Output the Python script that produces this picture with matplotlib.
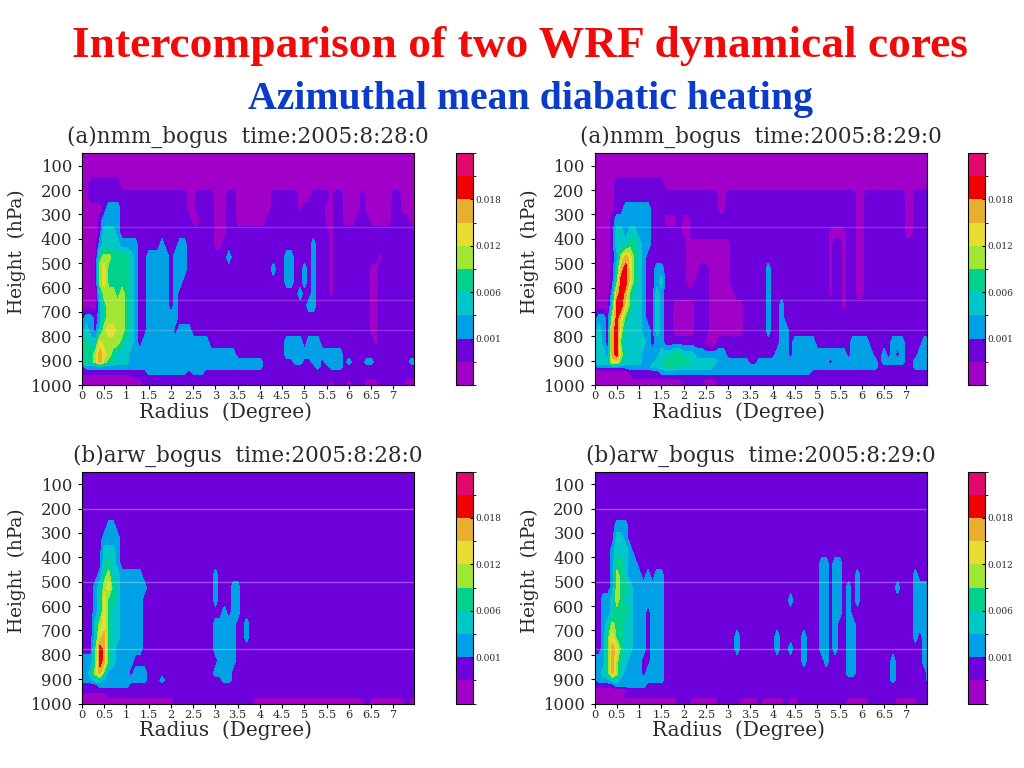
import numpy as np
import matplotlib
matplotlib.use('Agg')
import matplotlib.pyplot as plt
from matplotlib.cm import ScalarMappable
from matplotlib.colors import BoundaryNorm, ListedColormap

W, H = 1024, 768

# digit = colour band of the estimated heating at that grid point
# one char per 0.1 degree, spaces every 1 degree, last char repeats to the right edge
RADIUS = np.arange(76) * 0.1
PRESSURE = [50, 125, 175, 225, 275, 325, 375, 425, 475, 525, 575, 625, 675, 725, 775,
            825, 875, 905, 925, 945, 965, 985, 1000]

NMM_28 = [
    "0",
    "0",
    "0011111110 0",
    "0011111111 1111111111 1111001111 0001100000 0001111110 0011110110 0001000000 110000",
    "0000012221 1111111111 1111001111 0001100000 0001111110 1111100110 0001000000 110000",
    "0000122221 1111111111 1111100111 0001100000 0011111111 1111100110 0011100000 111100",
    "0000133321 1111111111 1111111111 0001111111 1111111111 1111110111 1111111111 111110",
    "0000233332 2221111121 1122111111 0011111111 1111111111 1121110111 1111111111 1",
    "0000455444 4321122222 1222111111 1112111111 1111112211 1121110111 1111111011 1",
    "0000564444 4321122222 1222111111 1111111111 1112112211 2121110111 1111100111 1",
    "0000564444 4321122222 1221111111 1111111111 1111112211 2121110111 1111100111 1",
    "0000355545 4321122222 1211111111 1111111111 1111111112 1121110111 1111100111 1",
    "0000245555 4321122222 1211111111 1111111111 1111111111 1221111111 1111100111 1",
    "1221245555 4321122222 2211111111 1111111111 1111111111 1111111111 1111100111 1",
    "2321356655 4321122222 2122211111 1111111111 1111111111 1111111111 1111100111 1",
    "3433655554 3321222222 2222222221 1111111111 1111112222 1222111111 1111110111 1",
    "4445765433 3222222222 2222222222 2222211111 1111112222 2222222221 1111111111 1",
    "4445754433 3222222222 2222222222 2222222222 2111111122 1122122221 2111221111 111122",
    "1222222222 2222222222 2222222222 2222222222 2111111111 1112112221 1111111111 1",
    "1111111111 1111122222 2222122211 1111111111 1",
    "0000000000 0011111111 1",
    "0000000000 0000111111 1111111111 1111111111 1111111111 1111110111 0111000111 111000",
    "0000000000 0000111111 1111111111 1111111111 1111111111 1111110111 0111000111 111000",
]

NMM_29 = [
    "0",
    "0",
    "0000011111 1111110000 0",
    "0000011111 1111111111 1111111100 1111111111 1111111111 1111111110 0111111111 001111",
    "0000011222 2221111111 1111111100 1111111111 1111111111 1111111110 0111111111 001111",
    "0000122222 2221110001 0011111111 1111111111 1111111111 1111111110 0111111111 001111",
    "0000133233 2221111111 0011111111 1111111111 1111111111 1110000110 0111111111 001111",
    "0000133344 3221111111 1000000000 0111111111 1111111111 1110110110 0111111111 1",
    "0000125764 3211111111 1000000000 0111111111 1111111111 1110110110 0111111111 1",
    "0000137864 3211221111 1000110000 0111111112 1111111111 1110110110 0111111111 1",
    "0000148864 3211231111 1001110000 0111111112 1111111111 1110110110 0111111111 1",
    "0000278743 3211321111 1111110000 0011111112 1111111111 1110110110 0111111111 1",
    "0000388643 3211321100 0001110000 0000111112 1121111111 1111110111 1",
    "1221586433 3211321100 0001110000 0000111112 1121111111 1",
    "2321785333 3221321100 0001110000 0000111112 1122111111 1",
    "3321784333 3321221111 1111100011 1111111111 1122122222 1111111122 2211111222 111122",
    "3332785333 3222233344 3332222222 1111111111 1222122222 2222222122 2221121212 111222",
    "3333664333 3222334444 4433333322 2222211222 2222222222 2221222222 2222122222 112222",
    "1222222222 2223334443 3333333222 2222222222 2222222222 2222222222 2222111111 112222",
    "0000000011 1111122222 2222222222 2222222222 2222222221 1",
    "0000000001 1",
    "0000000000 0000000000 1111100011 1",
    "0000000000 0000000000 1111100011 1111111111 1111111111 1111011111 1",
]

ARW_28 = [
    "1", "1", "1", "1",
    "1111112211 1",
    "1111122221 1",
    "1111133321 1",
    "1111134321 1",
    "1111245332 2222111111 1111111111 2111111111 1",
    "1112356432 2222211111 1111111111 2111221111 1",
    "1112364432 2222111111 1111111111 2111221111 1",
    "1112364332 2222111111 1111111111 1121221111 1",
    "1113564332 2222111111 1111111111 2222211211 1",
    "1113674332 2222111111 1111111111 2222211211 1",
    "1114874322 2222111111 1111111111 2222211111 1",
    "2224874322 2211111111 1111111111 1222211111 1",
    "2235742222 2122211111 1111111111 2222111111 1",
    "2223322222 2222211121 1111111111 1122111111 1",
    "1111222222 2111111111 1",
    "1",
    "0000001111 1",
    "0000000000 0000000000 0111111111 1111111110 0000000000 0000000000 0000100000 000100",
    "0000000000 0000000000 0111111111 1111111110 0000000000 0000000000 0000100000 000100",
]

ARW_29 = [
    "1", "1", "1", "1",
    "1111122211 1",
    "1111133211 1",
    "1111233321 1",
    "1111244322 1111111111 1111111111 1111111111 1111111111 1221221111 1",
    "1111254322 2121221111 1111111111 1111111111 1111111111 1221221112 1111111111 112111",
    "1111254432 2222221111 1111111111 1111111111 1111111111 1221221212 1111111121 112222",
    "1122354332 2222221111 1111111111 1111111111 1111211111 1221221212 1111111111 112222",
    "1122344432 2212221111 1111111111 1111111111 1111111111 1221221211 1111111111 112222",
    "1123544332 2212221111 1111111111 1111111111 1111111111 1221211221 1111111111 112222",
    "1124644332 2212221111 1111111111 1121111111 1211111211 1221211221 1111111111 112122",
    "1124764332 2212221111 1111111111 1121111111 1211211211 1221211221 1111111111 111122",
    "2224753322 2112221111 1111111111 1111111111 1111111211 1121111221 1111111211 111122",
    "2234753222 2122221111 1111111111 1111111111 1111111111 1111111221 1111111211 111112",
    "1222332222 2222221111 1111111111 1111111111 1111111111 1111111111 1111111211 111112",
    "1111122222 2211111111 1",
    "0000000011 1",
    "0000000111 1",
    "0000000000 0000000001 1100000011 1110000100 0001001111 1111111000 0011111100 000111",
    "0000000000 0000000001 1100000011 1110000100 0001001111 1111111000 0011111100 000111",
]

BAND_COLORS = ['#A000C8', '#6E00DC', '#00A0E6', '#00C8C8', '#00D28C',
               '#A0E632', '#E6DC32', '#E6AF2D', '#F00000', '#E00A6E']
BAR_TICKS = [2, 4, 6, 8]
BAR_LABELS = ['0.001', '0.006', '0.012', '0.018']

P_TICKS = [100, 200, 300, 400, 500, 600, 700, 800, 900, 1000]
R_TICKS = [0, 0.5, 1, 1.5, 2, 2.5, 3, 3.5, 4, 4.5, 5, 5.5, 6, 6.5, 7]
R_LABELS = ['0', '0.5', '1', '1.5', '2', '2.5', '3', '3.5', '4', '4.5', '5', '5.5', '6', '6.5', '7']

TOP_STREAKS = [350, 650, 775]
BOTTOM_STREAKS = [200, 500, 775]

PANEL_FONT = 'DejaVu Serif'
TEXT_GRAY = '#2A2A2A'


def to_grid(rows):
    out = []
    for row in rows:
        s = row.replace(' ', '')
        s = s.ljust(len(RADIUS), s[-1])[:len(RADIUS)]
        out.append([int(c) + 0.5 for c in s])
    return np.array(out)


def px_axes(fig, left, top, right, bottom):
    return fig.add_axes([left / W, 1 - bottom / H, (right - left) / W, (bottom - top) / H])


def draw_panel(fig, rows, title, box, bar_x, streaks, streak_alpha):
    left, top, right, bottom = box
    ax = px_axes(fig, left, top, right, bottom)
    ax.contourf(RADIUS, PRESSURE, to_grid(rows), levels=np.arange(11), colors=BAND_COLORS)
    for p in streaks:
        ax.axhline(p, color='white', lw=1, alpha=streak_alpha)
    ax.set_xlim(0, 7.45)
    ax.set_ylim(1000, 48)
    ax.set_xticks(R_TICKS)
    ax.set_xticklabels(R_LABELS, fontsize=8.2, family=PANEL_FONT, color=TEXT_GRAY)
    ax.set_yticks(P_TICKS)
    ax.set_yticklabels(P_TICKS, fontsize=11.8, family=PANEL_FONT, color=TEXT_GRAY)
    ax.tick_params(axis='x', length=3, width=0.8, pad=1.5)
    ax.tick_params(axis='y', length=3, width=0.8, pad=4)

    mid = (left + right) / 2
    fig.text(mid / W, 1 - (top - 16) / H, title, ha='center', va='center',
             fontsize=15.5, family=PANEL_FONT, color=TEXT_GRAY)
    fig.text((mid - 22) / W, 1 - (bottom + 27) / H, 'Radius  (Degree)', ha='center', va='center',
             fontsize=14.5, family=PANEL_FONT, color=TEXT_GRAY)
    fig.text((left - 65) / W, 1 - ((top + bottom) / 2 - 17) / H, 'Height  (hPa)', ha='center', va='center',
             rotation=90, fontsize=13.3, family=PANEL_FONT, color=TEXT_GRAY)

    cax = px_axes(fig, bar_x, top, bar_x + 17, bottom)
    norm = BoundaryNorm(np.arange(11), 10)
    bar = fig.colorbar(ScalarMappable(norm=norm, cmap=ListedColormap(BAND_COLORS)), cax=cax,
                       ticks=BAR_TICKS, spacing='proportional', drawedges=False)
    bar.ax.set_yticklabels(BAR_LABELS, fontsize=6.5, family=PANEL_FONT, color=TEXT_GRAY)
    bar.ax.tick_params(length=2, width=0.8, pad=2, direction='in')
    return ax


fig = plt.figure(figsize=(W / 100, H / 100), dpi=100, facecolor='white')
fig.text(520 / W, 1 - 46 / H, 'Intercomparison of two WRF dynamical cores', ha='center', va='center',
         fontsize=32.7, weight='bold', family='Liberation Serif', color='#F00A0A')
fig.text(531 / W, 1 - 100 / H, 'Azimuthal mean diabatic heating', ha='center', va='center',
         fontsize=28.6, weight='bold', family='Liberation Serif', color='#0A3CC8')

draw_panel(fig, NMM_28, '(a)nmm_bogus  time:2005:8:28:0', (82, 153, 413.5, 385), 455.5, TOP_STREAKS, 0.2)
draw_panel(fig, NMM_29, '(a)nmm_bogus  time:2005:8:29:0', (594.5, 153, 926.5, 385), 967.5, TOP_STREAKS, 0.2)
draw_panel(fig, ARW_28, '(b)arw_bogus  time:2005:8:28:0', (82, 471.5, 413.5, 703.5), 455.5, BOTTOM_STREAKS, 0.3)
draw_panel(fig, ARW_29, '(b)arw_bogus  time:2005:8:29:0', (594.5, 471.5, 926.5, 703.5), 967.5, BOTTOM_STREAKS, 0.3)

fig.savefig('out.png', dpi=100)
